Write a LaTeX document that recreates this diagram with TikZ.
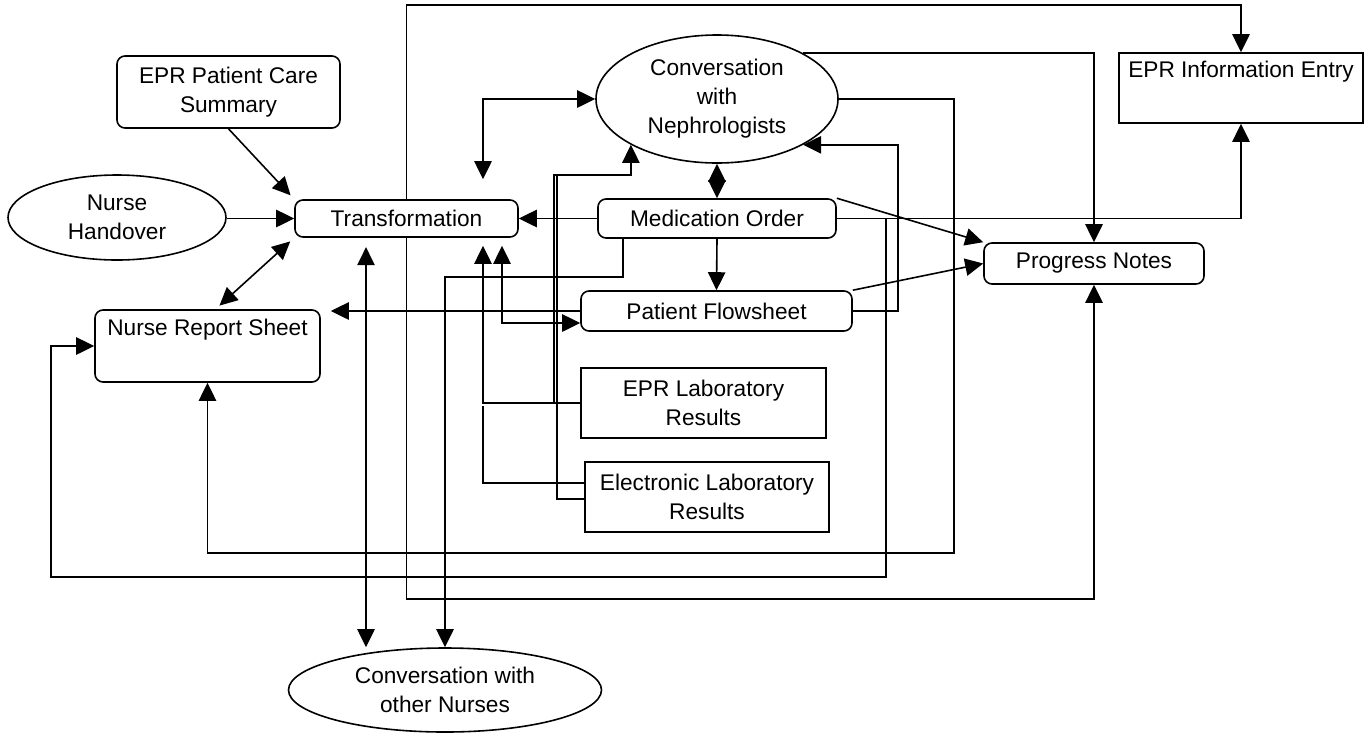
\documentclass[tikz,border=0pt]{standalone}
\usepackage{fontspec}
\setmainfont{Liberation Sans}
\usetikzlibrary{arrows.meta,shapes.geometric}

\begin{document}
\begin{tikzpicture}[x=0.75pt,y=-0.75pt,
  >={Triangle[length=13.5pt,width=13pt]},
  every node/.style={font=\fontsize{17}{21.75}\selectfont, align=center, inner sep=0pt},
  rbox/.style={draw, line width=1.2pt, rounded corners=6pt},
  sbox/.style={draw, line width=1.2pt},
  oval/.style={draw, line width=1.2pt, ellipse},
  link/.style={line width=1.2pt}]
\useasboundingbox (0,0) rectangle (1371,733);

\node[rbox, minimum width=167.25pt, minimum height=54pt] (pcs) at (228.5,92) {EPR Patient Care\\Summary};
\node[oval, minimum width=163.5pt, minimum height=63.75pt] (handover) at (117,217.5) {Nurse\\Handover};
\node[rbox, minimum width=167.25pt, minimum height=27.75pt] (transf) at (406.5,218.5) {Transformation};
\node[rbox, minimum width=168.75pt, minimum height=54pt] (report) at (207.5,346) {Nurse Report Sheet\\\strut};
\node[oval, minimum width=181.5pt, minimum height=96pt] (neph) at (717,99) {Conversation\\with\\Nephrologists};
\node[rbox, minimum width=178.5pt, minimum height=29.25pt] (medorder) at (717,218.5) {Medication Order};
\node[rbox, minimum width=203.25pt, minimum height=30pt] (flowsheet) at (716.5,311) {Patient Flowsheet};
\node[sbox, minimum width=183.75pt, minimum height=52.5pt] (eprlab) at (703.5,403) {EPR Laboratory\\Results};
\node[sbox, minimum width=183pt, minimum height=52.5pt] (elab) at (707,497) {Electronic Laboratory\\Results};
\node[rbox, minimum width=165pt, minimum height=30.75pt] (progress) at (1094,263.5) {Progress Notes};
\node[sbox, minimum width=183pt, minimum height=52.5pt] (entry) at (1241,88) {EPR Information Entry\\\strut};
\node[oval, minimum width=234.75pt, minimum height=63pt] (nurses) at (445,690) {Conversation with\\other Nurses};

% into Transformation
\draw[link,->,shorten >=4pt] (pcs.south) -- (transf.north west);
\draw[link,->] (handover.east |- transf.west) -- (transf.west);
\draw[link,<->,shorten <=4pt,shorten >=4pt] ([xshift=6pt]report.north) -- (transf.south west);
\draw[link,->] (medorder.west) -- (transf.east);
\draw[link,<->,shorten >=15pt] (neph.west) -| (transf.north -| 483,0);
\draw[link,<->,shorten <=6pt] (transf.south -| 502,0) |- (flowsheet.west |- 0,323);
\draw[link,<->,shorten <=7pt] (transf.south -| 366,0) -- (nurses.north -| 366,0);

% out of Transformation
\draw[link,->] (transf.north) |- (entry.north |- 0,5) -- (entry.north);
\draw[link,->] (transf.south) |- (progress.south |- 0,599) -- (progress.south);

% Medication Order
\draw[link,<->] (medorder.north) -- (neph.south);
\draw[link,->] (medorder.south) -- (flowsheet.north);
\draw[link,->] (medorder.north east) -- (progress.north west);
\draw[link,->] (medorder.east) -| (entry.south);
\draw[link,->] (medorder.east -| 886,0) |- (51,577) |- (report.west);
\draw[link,->] (medorder.south -| 623,0) |- (nurses.north |- 0,277) -- (nurses.north);

% Nephrologists
\draw[link,->] (neph.east) -| (954,553) -| (report.south);
\draw[link,->] (neph.north east) -| (progress.north);

% Patient Flowsheet
\draw[link,->] (flowsheet.north east) -- (progress.west);
\draw[link,->] (flowsheet.east) -- (flowsheet.east -| 898,0) |- (neph.south east);
\draw[link,->,shorten >=7.5pt] (flowsheet.west) -- (flowsheet.west -| report.east);

% lab results
\draw[link,->,shorten >=6pt] (eprlab.west) -| (transf.south -| 483,0);
\draw[link,->] (eprlab.west -| 554,0) |- (neph.south west |- 0,175) -- (neph.south west);
\draw[link] (elab.west |- 0,483) -| (483,406);
\draw[link] (elab.west |- 0,499) -| (557,175);
%\draw (0,0) rectangle (1371,733);
\end{tikzpicture}
\end{document}
